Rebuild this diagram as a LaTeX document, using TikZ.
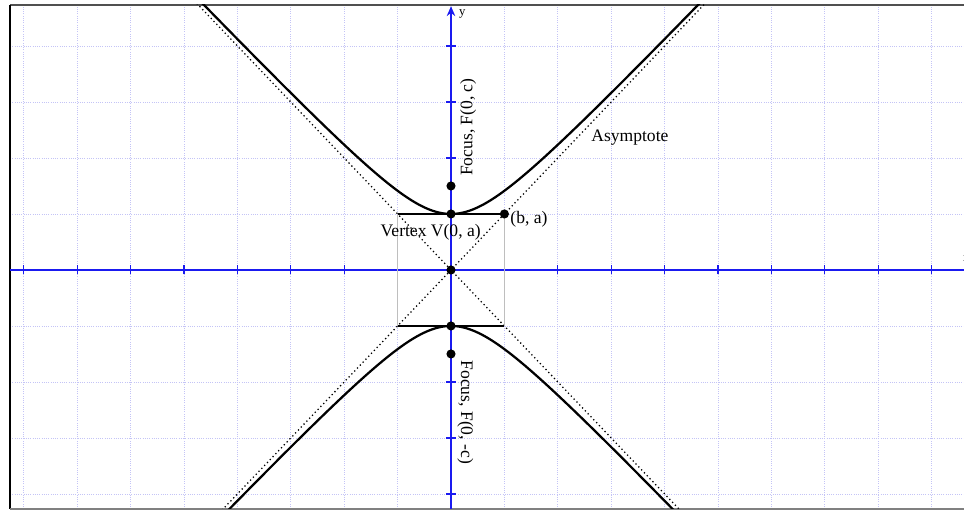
\documentclass[tikz,border=0pt]{standalone}
\usepackage{fontspec}
\setmainfont{Liberation Serif}
\usetikzlibrary{arrows.meta}
\definecolor{AxisBlue}{HTML}{1A1AF0}
\definecolor{GridBlue}{HTML}{C4C4F6}
\definecolor{BoxGray}{HTML}{BEBEBE}
\definecolor{FrameGray}{HTML}{505050}
\tikzset{
    gridline/.style={
        GridBlue,
        densely dotted,
        line width=0.6pt
    },
    axis/.style={
        AxisBlue,
        line width=1.3pt
    },
    tickmark/.style={
        AxisBlue,
        line width=0.8pt
    },
    curve/.style={
        black,
        line width=1.6pt
    },
    asym/.style={
        black,
        dotted,
        line width=0.9pt
    },
    dot/.style={
        circle,
        fill=black,
        inner sep=0pt,
        minimum size=6.5pt
    },
    lbl/.style={
        font=\fontsize{12.5}{14}\selectfont,
        text=black,
        inner sep=1pt
    }
}

\begin{document}
\begin{tikzpicture}[x=1.335cm, y=1.4cm]
        \useasboundingbox (-8.446,-4.286) rectangle (9.607,4.821);

        % Grid
        \foreach \i in {-8,...,9}
            \draw[gridline] (\i,-4.268) -- (\i,4.732);
        \foreach \j in {-4,...,4}
            \draw[gridline] (-8.258,\j) -- (9.7,\j);

        % Frame
        \draw[FrameGray, line width=1.5pt] (-8.258,4.732) -- (9.7,4.732);
        \draw[black, line width=1.5pt] (-8.258,-4.268) -- (-8.258,4.732);
        \draw[gray, line width=0.8pt] (-8.258,-4.268) -- (9.7,-4.268);

        % Axes
        \draw[axis] (-8.258,0) -- (9.7,0);
        \draw[axis, -{Stealth[length=7pt, width=6pt]}] (0,-4.268) -- (0,4.71);
        \foreach \i in {-8,...,-1,1,2,...,9}
            \draw[tickmark] (\i,-0.08) -- (\i,0.08);
        \foreach \j in {-4,...,-1,1,2,...,4}
            \draw[tickmark] (-0.09,\j) -- (0.09,\j);
        \node[lbl, font=\fontsize{9}{10}\selectfont, anchor=west] (ylabel) at (0.12,4.57) {y};
        \node[lbl, font=\fontsize{9}{10}\selectfont, anchor=west] (xlabel) at (9.56,0.2) {x};

        % Hyperbola and asymptotes
        \begin{scope}
            \clip (-8.258,-4.268) rectangle (9.7,4.732);
            \draw[asym] (-5.5,-5.5) -- (5.5,5.5);
            \draw[asym] (-5.5,5.5) -- (5.5,-5.5);
            \draw[curve, domain=-5.2:5.2, samples=121, smooth] plot (\x,{sqrt(1+\x*\x)});
            \draw[curve, domain=-5.2:5.2, samples=121, smooth] plot (\x,{-sqrt(1+\x*\x)});
        \end{scope}

        % Box
        \coordinate (tl) at (-1,1);
        \coordinate (tr) at (1,1);
        \coordinate (bl) at (-1,-1);
        \coordinate (br) at (1,-1);
        \draw[BoxGray, line width=0.9pt] (tl) -- (bl);
        \draw[BoxGray, line width=0.9pt] (tr) -- (br);
        \draw[black, line width=1.1pt] (tl) -- (tr);
        \draw[black, line width=1.1pt] (bl) -- (br);

        % Points
        \node[dot] (vtop) at (0,1) {};
        \node[dot] (vbot) at (0,-1) {};
        \node[dot] (orig) at (0,0) {};
        \node[dot] (corner) at (tr) {};
        \node[dot] (ftop) at (0,1.5) {};
        \node[dot] (fbot) at (0,-1.5) {};

        % Labels
        \node[lbl] (vlabel) at (-0.38,0.68) {Vertex V(0, a)};
        \node[lbl] (clabel) at (1.46,0.91) {(b, a)};
        \node[lbl] (alabel) at (3.35,2.36) {Asymptote};
        \node[lbl, rotate=90] (fup) at (0.32,2.55) {Focus, F(0, c)};
        \node[lbl, rotate=-90] (fdown) at (0.27,-2.54) {Focus, F(0, -c)};
\end{tikzpicture}
\end{document}
